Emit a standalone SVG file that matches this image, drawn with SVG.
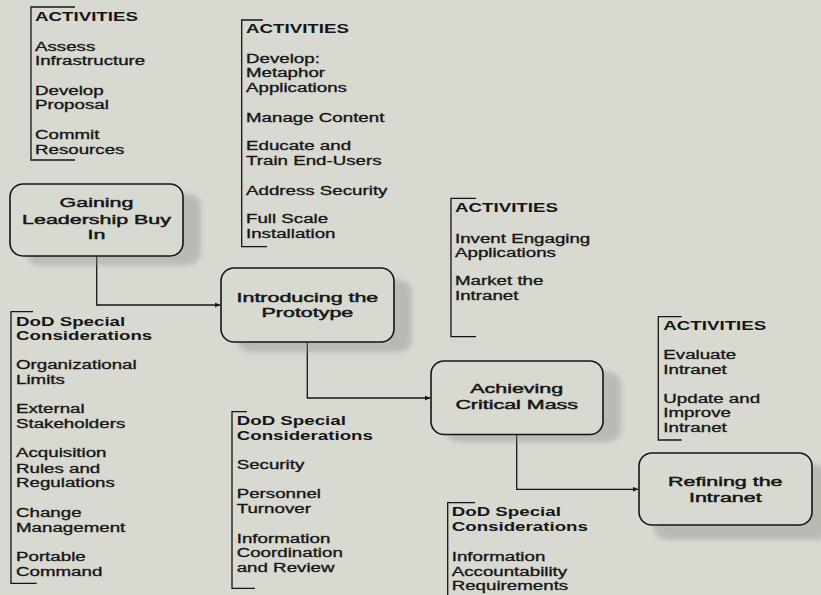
<svg xmlns="http://www.w3.org/2000/svg" width="821" height="595" viewBox="0 0 821 595">
<defs>
<style>
text{font-family:"Liberation Sans",Arial,sans-serif;fill:#151515;}
.h{font-size:12px;font-weight:bold;}
.i{font-size:12px;stroke:#151515;stroke-width:0.3;}
.b{font-size:13px;text-anchor:middle;stroke:#151515;stroke-width:0.45;}
.box{fill:#d8d9d1;stroke:#151515;stroke-width:1.6;}
.sh{fill:#8e8e88;opacity:0.4;filter:url(#blur);}
.br{fill:none;stroke:#151515;stroke-width:1.3;}
.con{fill:none;stroke:#151515;stroke-width:1.3;marker-end:url(#arr);}
</style>
<filter id="blur" x="-10%" y="-20%" width="120%" height="140%"><feGaussianBlur stdDeviation="2.5"/></filter>
<marker id="arr" viewBox="0 0 10 10" refX="10" refY="5" markerWidth="7" markerHeight="5" markerUnits="userSpaceOnUse" orient="auto"><path d="M0,0 L10,5 L0,10 z" fill="#151515"/></marker>
</defs>
<rect width="821" height="595" fill="#d8d9d1"/>

<g id="connectors">
<path class="con" d="M96.7,256 V305 H220"/>
<path class="con" d="M307.3,342 V398 H430"/>
<path class="con" d="M516.7,434.5 V489.3 H638"/>
</g>

<g id="node-gaining">
<rect class="sh" x="26" y="194" width="175" height="71" rx="13"/>
<rect class="box" x="10" y="184" width="173" height="72" rx="13"/>
<text class="b" transform="translate(96.5 207) scale(1.65 1)"><tspan x="0">Gaining</tspan><tspan x="0" dy="17">Leadership Buy</tspan><tspan x="0" dy="15">In</tspan></text>
</g>

<g id="node-introducing">
<rect class="sh" x="237" y="280" width="175" height="72" rx="13"/>
<rect class="box" x="221" y="268" width="173" height="74" rx="13"/>
<text class="b" transform="translate(307.4 301.7) scale(1.65 1)"><tspan x="0">Introducing the</tspan><tspan x="0" dy="15">Prototype</tspan></text>
</g>

<g id="node-achieving">
<rect class="sh" x="446" y="372" width="175" height="70" rx="13"/>
<rect class="box" x="431" y="361" width="172" height="73.5" rx="13"/>
<text class="b" transform="translate(516.7 393.3) scale(1.65 1)"><tspan x="0">Achieving</tspan><tspan x="0" dy="15.7">Critical Mass</tspan></text>
</g>

<g id="node-refining">
<rect class="sh" x="654" y="465" width="175" height="75" rx="13"/>
<rect class="box" x="639" y="453" width="173" height="72" rx="13"/>
<text class="b" transform="translate(725.3 486) scale(1.65 1)"><tspan x="0">Refining the</tspan><tspan x="0" dy="15.7">Intranet</tspan></text>
</g>

<g id="activities-1">
<path class="br" d="M75,7 H31 V160 H75"/>
<text class="h" transform="translate(35 20.7) scale(1.56 1)">ACTIVITIES</text>
<text class="i" transform="translate(35 50.7) scale(1.56 1)"><tspan x="0">Assess</tspan><tspan x="0" dy="14.3">Infrastructure</tspan><tspan x="0" dy="30">Develop</tspan><tspan x="0" dy="14.3">Proposal</tspan><tspan x="0" dy="30">Commit</tspan><tspan x="0" dy="14.3">Resources</tspan></text>
</g>

<g id="activities-2">
<path class="br" d="M263,20 H241.7 V246.7 H267"/>
<text class="h" transform="translate(246 33.3) scale(1.56 1)">ACTIVITIES</text>
<text class="i" transform="translate(246 63.3) scale(1.56 1)"><tspan x="0">Develop:</tspan><tspan x="0" dy="14.2">Metaphor</tspan><tspan x="0" dy="14.6">Applications</tspan><tspan x="0" dy="30">Manage Content</tspan><tspan x="0" dy="28.3">Educate and</tspan><tspan x="0" dy="15">Train End-Users</tspan><tspan x="0" dy="30">Address Security</tspan><tspan x="0" dy="28">Full Scale</tspan><tspan x="0" dy="15">Installation</tspan></text>
</g>

<g id="activities-3">
<path class="br" d="M476,198.3 H451 V336.7 H476"/>
<text class="h" transform="translate(455 211.7) scale(1.56 1)">ACTIVITIES</text>
<text class="i" transform="translate(455 243.3) scale(1.56 1)"><tspan x="0">Invent Engaging</tspan><tspan x="0" dy="13.4">Applications</tspan><tspan x="0" dy="28.3">Market the</tspan><tspan x="0" dy="15">Intranet</tspan></text>
</g>

<g id="activities-4">
<path class="br" d="M681.7,316.7 H658.3 V440 H681.7"/>
<text class="h" transform="translate(663.3 330) scale(1.56 1)">ACTIVITIES</text>
<text class="i" transform="translate(663.3 359.3) scale(1.56 1)"><tspan x="0">Evaluate</tspan><tspan x="0" dy="14.7">Intranet</tspan><tspan x="0" dy="28.7">Update and</tspan><tspan x="0" dy="14">Improve</tspan><tspan x="0" dy="15">Intranet</tspan></text>
</g>

<g id="dod-1">
<path class="br" d="M33,311.7 H11 V583.3 H36.7"/>
<text class="h" transform="translate(16 326) scale(1.56 1)"><tspan x="0">DoD Special</tspan><tspan x="0" dy="14">Considerations</tspan></text>
<text class="i" transform="translate(16 369.3) scale(1.56 1)"><tspan x="0">Organizational</tspan><tspan x="0" dy="14.7">Limits</tspan><tspan x="0" dy="29.3">External</tspan><tspan x="0" dy="15">Stakeholders</tspan><tspan x="0" dy="29">Acquisition</tspan><tspan x="0" dy="15.4">Rules and</tspan><tspan x="0" dy="14.6">Regulations</tspan><tspan x="0" dy="29.4">Change</tspan><tspan x="0" dy="15">Management</tspan><tspan x="0" dy="29">Portable</tspan><tspan x="0" dy="15">Command</tspan></text>
</g>

<g id="dod-2">
<path class="br" d="M247,411.7 H232 V588.3 H255"/>
<text class="h" transform="translate(236.7 425) scale(1.56 1)"><tspan x="0">DoD Special</tspan><tspan x="0" dy="15">Considerations</tspan></text>
<text class="i" transform="translate(236.7 469.3) scale(1.56 1)"><tspan x="0">Security</tspan><tspan x="0" dy="29">Personnel</tspan><tspan x="0" dy="15">Turnover</tspan><tspan x="0" dy="29.4">Information</tspan><tspan x="0" dy="14">Coordination</tspan><tspan x="0" dy="15">and Review</tspan></text>
</g>

<g id="dod-3">
<path class="br" d="M475,502.7 H447.7 V595"/>
<text class="h" transform="translate(451.7 516) scale(1.56 1)"><tspan x="0">DoD Special</tspan><tspan x="0" dy="15">Considerations</tspan></text>
<text class="i" transform="translate(451.7 560.7) scale(1.56 1)"><tspan x="0">Information</tspan><tspan x="0" dy="15">Accountability</tspan><tspan x="0" dy="14.3">Requirements</tspan></text>
</g>
</svg>
